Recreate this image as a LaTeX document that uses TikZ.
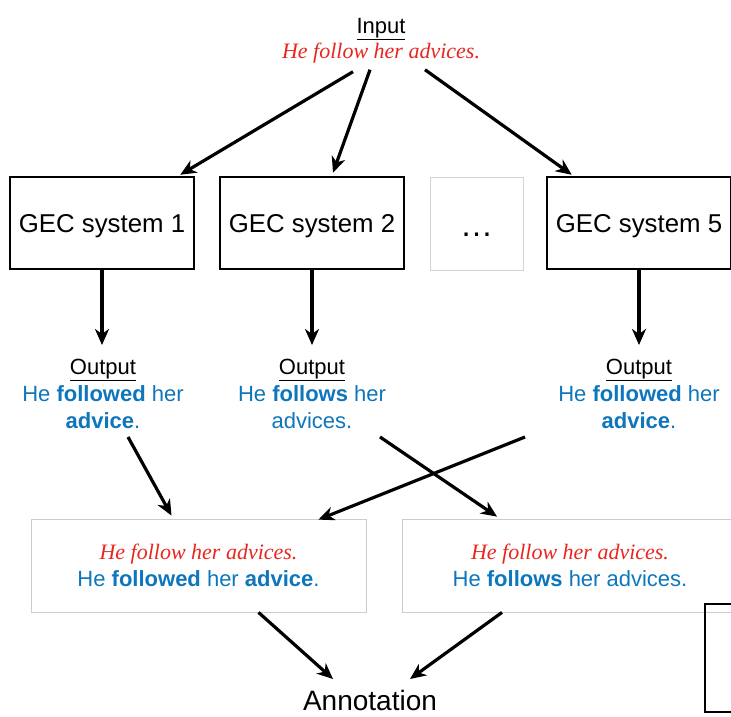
\documentclass[tikz,border=0pt]{standalone}
\usepackage{fontspec}
\setmainfont{Liberation Sans}
\newfontfamily\serifit{Liberation Serif}
\usetikzlibrary{arrows.meta,calc}

\definecolor{errred}{RGB}{232,38,30}
\definecolor{corrblue}{RGB}{14,118,188}

\newcommand{\wrongsent}{{\serifit\itshape\color{errred}He follow her advices.}}

\begin{document}
\begin{tikzpicture}[x=1pt,y=-1pt,
	>={Stealth[length=16pt,width=14pt,inset=5pt]},
	arr/.style={->,line width=3.2pt},
	sysbox/.style={draw,line width=2.5pt,minimum width=184pt,minimum height=92pt,
		text height=18.5pt,text depth=0pt,font=\fontsize{25.8}{30}\selectfont},
	pairbox/.style={draw=gray!40,line width=0.8pt,minimum width=335pt,minimum height=93pt,
		align=center,text=corrblue,font=\fontsize{22}{27}\selectfont},
	outtext/.style={anchor=north,align=center,inner sep=0pt,text=corrblue,
		font=\fontsize{22}{27}\selectfont}]

\clip (0,0) rectangle (731,716);

% input sentence
\node[anchor=north,align=center,inner sep=0pt,font=\fontsize{22}{25.5}\selectfont]
	(inp) at (381,18) {\underline{Input}\\\wrongsent};

% systems
\node[sysbox] (sys1) at (102,223) {GEC system 1};
\node[sysbox] (sys2) at (312,223) {GEC system 2};
\node[draw=gray!35,line width=0.8pt,minimum size=93pt,text height=25pt,text depth=0pt,
	font=\fontsize{33}{36}\selectfont] (dots) at (476.5,223.5) {…};
\node[sysbox] (sys5) at (639,223) {GEC system 5};

\draw[arr] ($(inp.south)+(-28,8)$) -- ($(sys1.north east)+(-15,-1)$);
\draw[arr] ($(inp.south)+(-11,6)$) -- ($(sys2.north)+(21,-3)$);
\draw[arr] ($(inp.south)+(44,6)$) -- ($(sys5.north west)+(26,-1)$);

% outputs
\node[outtext] (out1) at (103,359)
	{\textcolor{black}{\underline{Output}}\\He \textbf{followed} her\\\textbf{advice}.};
\node[outtext] (out2) at (312,359)
	{\textcolor{black}{\underline{Output}}\\He \textbf{follows} her\\advices.};
\node[outtext] (out3) at (639,359)
	{\textcolor{black}{\underline{Output}}\\He \textbf{followed} her\\\textbf{advice}.};

\foreach \s/\o in {sys1/out1,sys2/out2,sys5/out3}{
	\draw[arr] (\s.south) -- ($(\s.south |- \o.north)+(0,-14)$);
}

% pairs for annotation
\node[pairbox] (pairA) at (198.5,565.5)
	{\wrongsent\\He \textbf{followed} her \textbf{advice}.};
\node[pairbox] (pairB) at (570,565.5)
	{\wrongsent\\He \textbf{follows} her advices.};

\draw[arr] ($(out1.south)+(25,8)$) -- ($(pairA.north)+(-27,-3)$);
\draw[arr] ($(out2.south)+(68,8)$) -- ($(pairB.north)+(-73,-2)$);
\draw[arr] ($(out3.south)+(-114,8)$) -- ($(pairA.north east)+(-48,1)$);

\node[anchor=north,inner sep=0pt,font=\fontsize{28}{30}\selectfont]
	(ann) at (370,690) {Annotation};

\draw[arr] ($(pairA.south)+(60,0)$) -- ($(ann.north)+(-37,-11)$);
\draw[arr] ($(pairB.south)+(-68,0)$) -- ($(ann.north)+(40,-11)$);

% cut-off frame at the lower right
\draw[line width=2.5pt] (705,604) rectangle (780,712);

\end{tikzpicture}
\end{document}
